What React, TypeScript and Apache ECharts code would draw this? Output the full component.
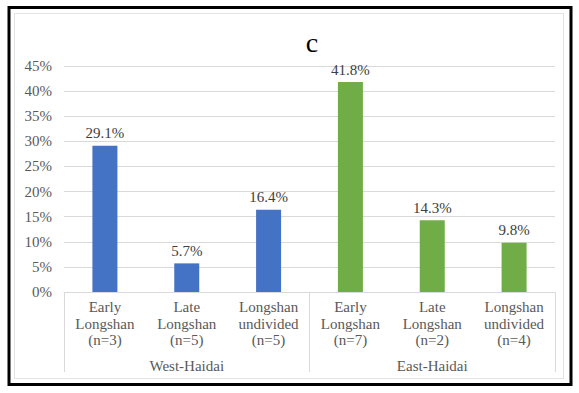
import React, { useEffect, useRef } from "react";
import * as echarts from "echarts";

const categories = [
  "Early\nLongshan\n(n=3)",
  "Late\nLongshan\n(n=5)",
  "Longshan\nundivided\n(n=5)",
  "Early\nLongshan\n(n=7)",
  "Late\nLongshan\n(n=2)",
  "Longshan\nundivided\n(n=4)",
];
const groups = ["West-Haidai", "East-Haidai"];
const groupOfCategory = [0, 0, 0, 1, 1, 1];
const values = [29.1, 5.7, 16.4, 41.8, 14.3, 9.8];
const groupColors = ["#4472C4", "#70AD47"];
const yMin = 0;
const yMax = 45;
const yInterval = 5;
const title = "c";

const FONT = "Liberation Serif";
const FS = 15;

export default function App() {
  const ref = useRef<HTMLDivElement>(null);
  useEffect(() => {
    if (!ref.current) return;
    const chart = echarts.init(ref.current, null, { renderer: "svg" });
    chart.setOption({
      animation: false,
      backgroundColor: "#ffffff",
      textStyle: { fontFamily: FONT },
      title: {
        text: title,
        left: 307,
        top: 23,
        textAlign: "center",
        textStyle: { fontFamily: FONT, fontSize: 28, fontWeight: "normal", color: "#000000" },
      },
      graphic: [
        {
          type: "rect",
          shape: { x: 9, y: 7.5, width: 562, height: 377 },
          style: { fill: "none", stroke: "#000000", lineWidth: 3 },
          silent: true,
        },
        {
          type: "rect",
          shape: { x: 14.5, y: 13.5, width: 549, height: 365 },
          style: { fill: "none", stroke: "#E3E3E3", lineWidth: 1 },
          silent: true,
        },
      ],
      grid: { left: 64, right: 24, top: 66, bottom: 101, containLabel: false },
      xAxis: [
        {
          type: "category",
          data: categories,
          position: "bottom",
          axisLine: { show: true, lineStyle: { color: "#D9D9D9", width: 1 } },
          axisTick: { show: false },
          axisLabel: {
            interval: 0,
            margin: 7,
            fontFamily: FONT,
            fontSize: FS,
            lineHeight: 16.5,
            color: "#595959",
          },
        },
        {
          type: "category",
          data: groups,
          position: "bottom",
          offset: 0,
          axisLine: { show: false },
          axisTick: {
            show: true,
            interval: 0,
            length: 80,
            lineStyle: { color: "#D9D9D9", width: 1 },
          },
          axisLabel: {
            interval: 0,
            margin: 66,
            fontFamily: FONT,
            fontSize: FS,
            color: "#595959",
          },
          splitLine: { show: false },
        },
      ],
      yAxis: {
        type: "value",
        min: yMin,
        max: yMax,
        interval: yInterval,
        axisLine: { show: false },
        axisTick: { show: false },
        splitLine: { show: true, lineStyle: { color: "#D9D9D9", width: 1 } },
        axisLabel: {
          formatter: "{value}%",
          margin: 12,
          fontFamily: FONT,
          fontSize: FS,
          color: "#595959",
        },
      },
      series: [
        {
          type: "bar",
          xAxisIndex: 0,
          barWidth: 25,
          data: values.map((v, i) => ({
            value: v,
            itemStyle: { color: groupColors[groupOfCategory[i]] },
          })),
          label: {
            show: true,
            position: "top",
            distance: 5,
            formatter: (p: any) => `${p.value.toFixed(1)}%`,
            fontFamily: FONT,
            fontSize: FS,
            color: "#404040",
          },
        },
      ],
    });
    return () => chart.dispose();
  }, []);
  return (
    <div
      ref={ref}
      style={{ position: "fixed", left: 0, top: 0, width: 579, height: 393 }}
    />
  );
}
